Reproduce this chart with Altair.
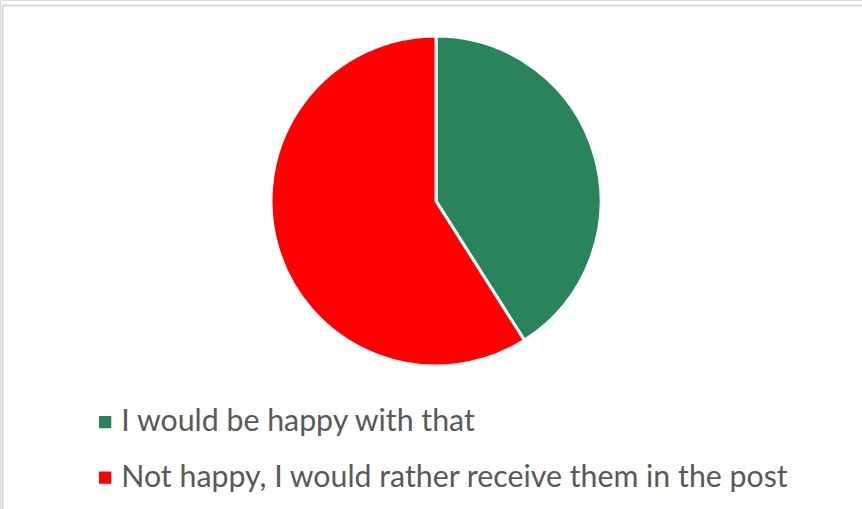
import altair as alt
import pandas as pd

categories = ["I would be happy with that", "Not happy, I would rather receive them in the post"]
values = [41, 59]
colors = ["#29845C", "#FF0000"]

df = pd.DataFrame({"answer": categories, "share": values, "order": [0, 1]})

border = alt.Chart(pd.DataFrame({"k": [0]})).mark_rect(
    fill=None, stroke="#D9D9D9", strokeWidth=2
).encode(
    x=alt.value(2.5), x2=alt.value(1000), y=alt.value(5.5), y2=alt.value(1000)
)

pie = alt.Chart(df).mark_arc(stroke="white", strokeWidth=3).encode(
    theta=alt.Theta("share:Q", stack=True),
    order=alt.Order("order:Q"),
    color=alt.Color(
        "answer:N",
        scale=alt.Scale(domain=categories, range=colors),
        sort=categories,
        legend=alt.Legend(
            title=None,
            orient="none",
            legendX=90,
            legendY=407,
            symbolType="square",
            symbolSize=150,
            symbolStrokeWidth=0,
            labelFont="Lato",
            labelFontSize=30.3,
            labelColor="#595959",
            labelOffset=1,
            rowPadding=24.5,
            labelLimit=1000,
        ),
    ),
    x=alt.value(436),
    y=alt.value(201),
    radius=alt.value(165),
)

chart = alt.layer(border, pie).properties(
    width=862, height=509,
    autosize=alt.AutoSizeParams(type="none"),
    padding=0,
).configure_view(stroke=None).configure(background="white")

chart.save("out.html", embed_options={"renderer": "svg", "actions": False})
